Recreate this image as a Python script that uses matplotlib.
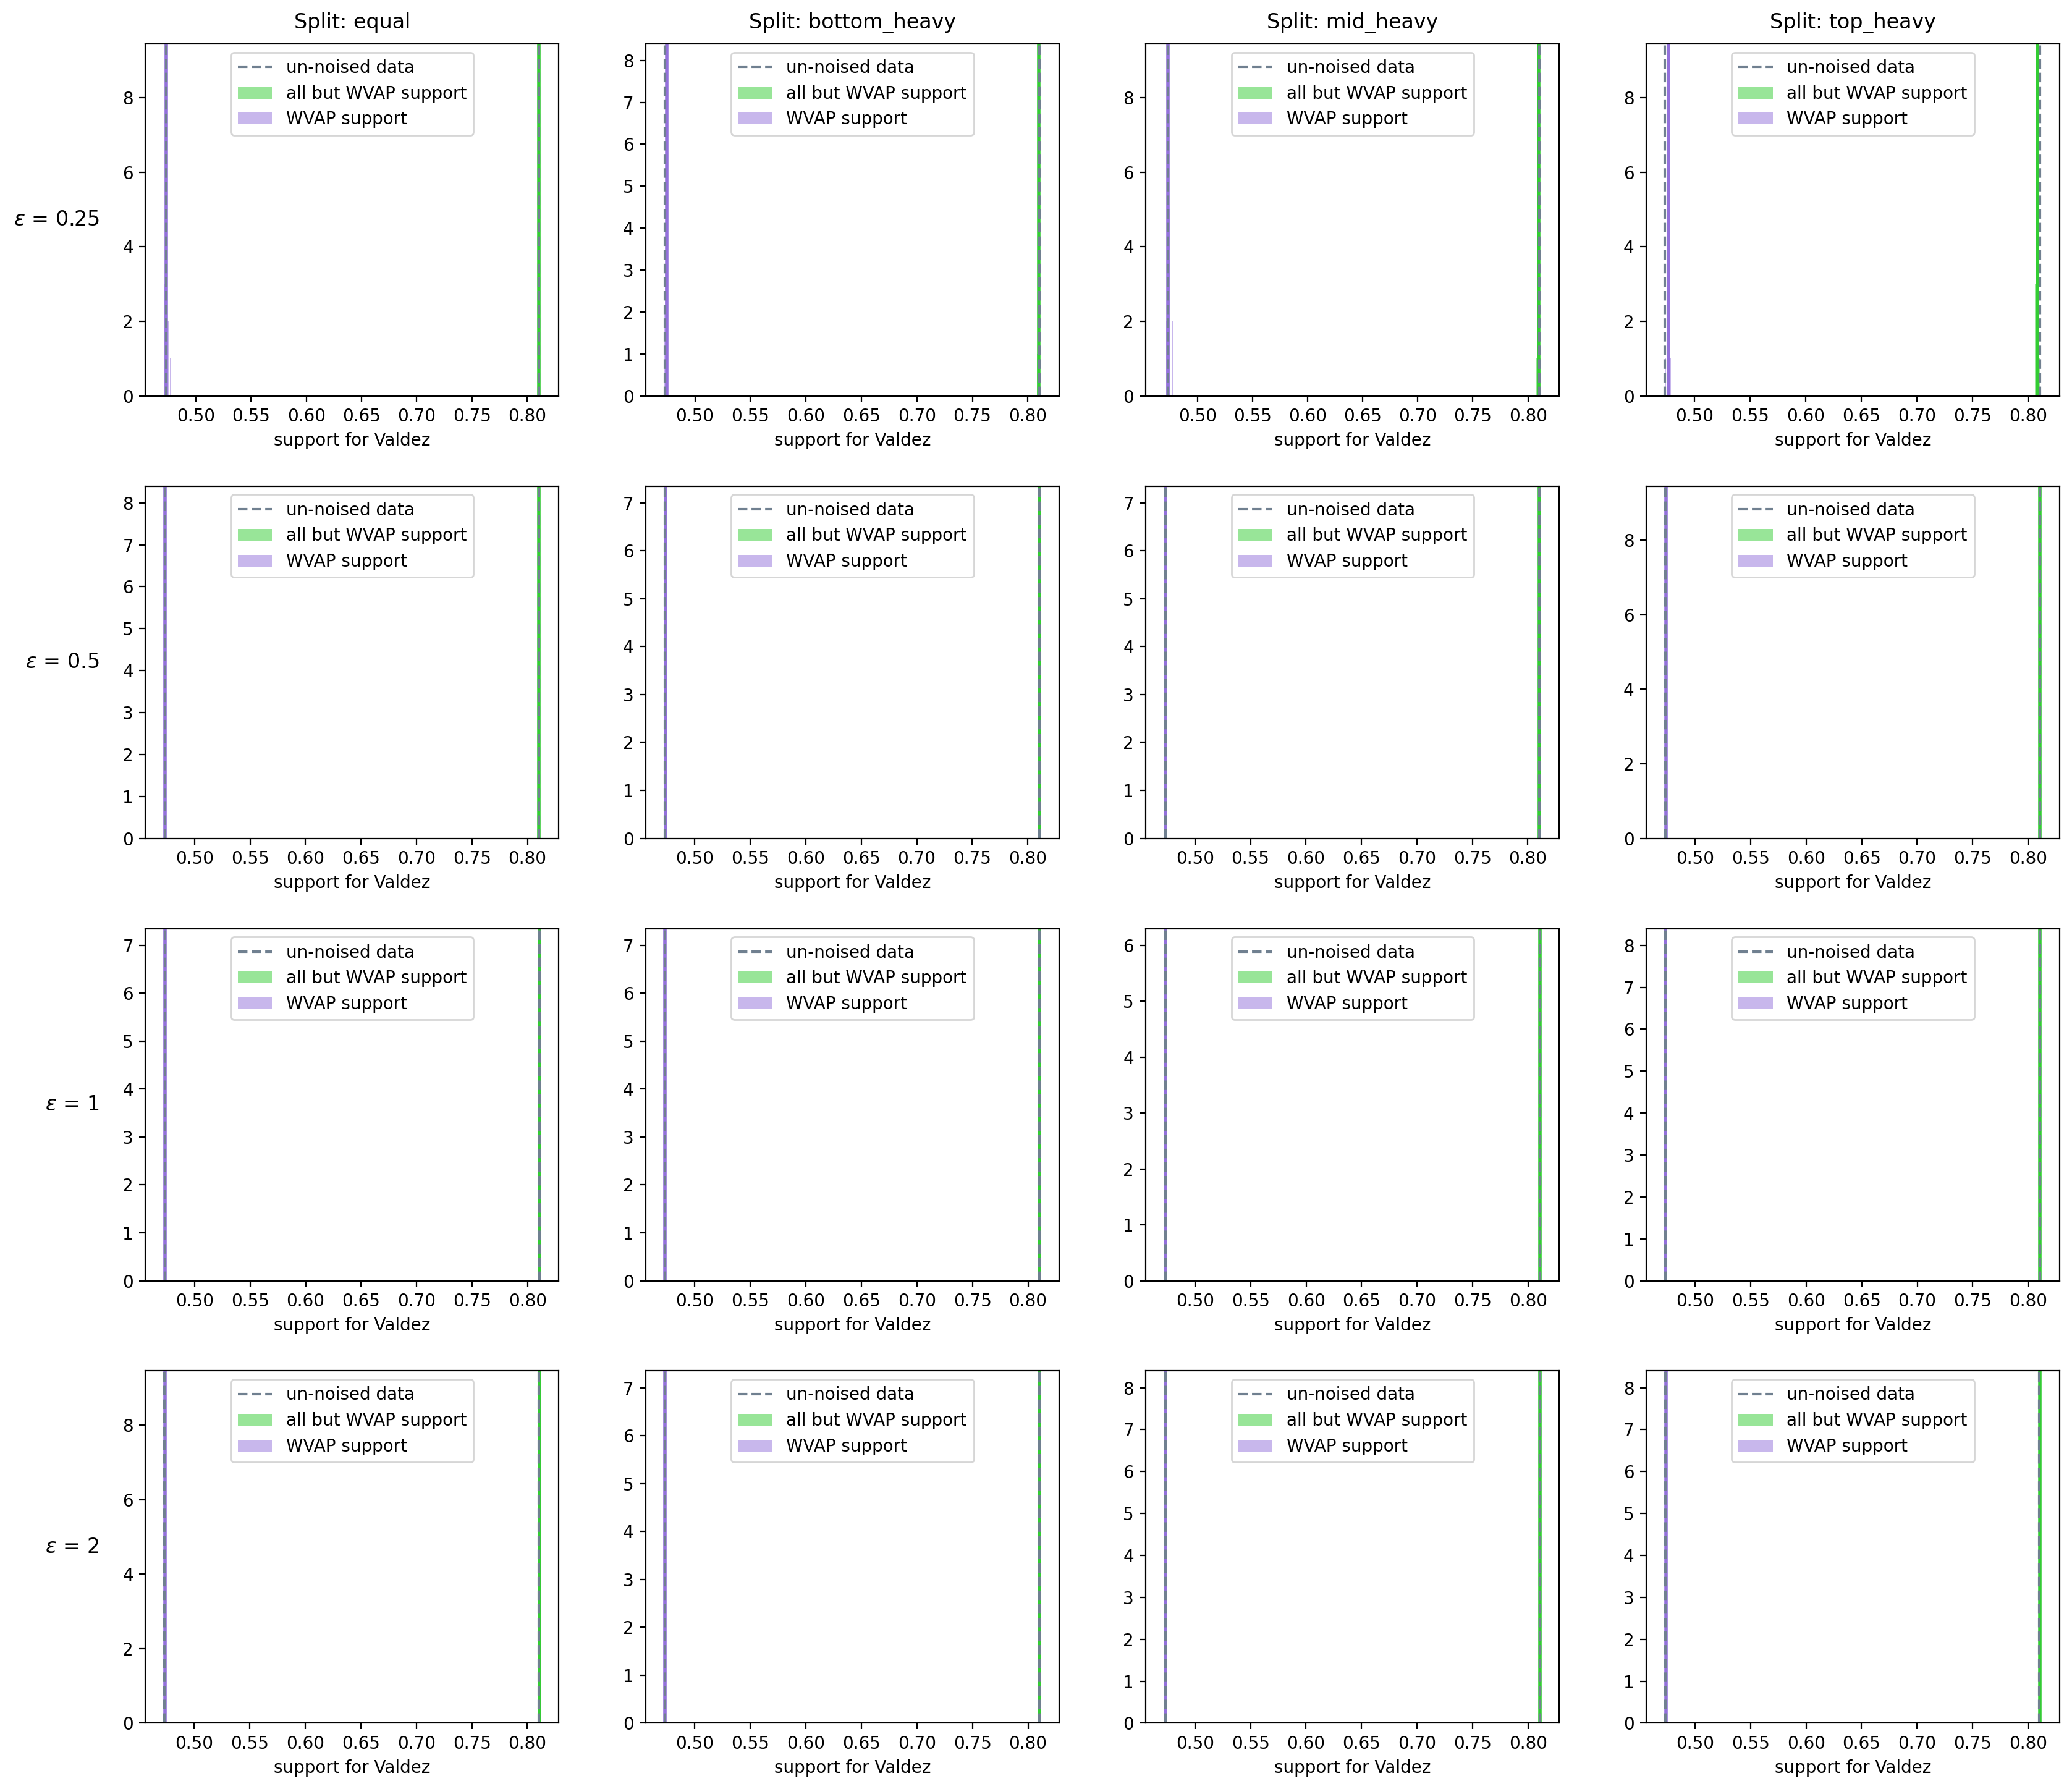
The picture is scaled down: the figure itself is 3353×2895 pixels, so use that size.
import numpy as np
import matplotlib
matplotlib.use('Agg')
import matplotlib.pyplot as plt
from matplotlib.lines import Line2D
from matplotlib.patches import Patch

splits = ['equal', 'bottom_heavy', 'mid_heavy', 'top_heavy']
epsilons = ['0.25', '0.5', '1', '2']

# un-noised support values
true_wvap = 0.4732
true_rest = 0.8105

# mean of noised runs, rows = epsilon, cols = split
wvap_mean = [[0.4731, 0.4749, 0.4731, 0.4762],
             [0.4733, 0.4733, 0.4734, 0.4735],
             [0.4732, 0.4733, 0.4730, 0.4733],
             [0.4733, 0.4732, 0.4731, 0.4734]]
rest_mean = [[0.8105, 0.8096, 0.8100, 0.8084],
             [0.8105, 0.8104, 0.8106, 0.8105],
             [0.8105, 0.8104, 0.8106, 0.8105],
             [0.8106, 0.8105, 0.8106, 0.8109]]

# histogram bin ranges (lo, hi) and counts of noised runs, 10 bins each
wvap_range = [[(0.4713, 0.4768), (0.4726, 0.4771), (0.4703, 0.4778), (0.4733, 0.4788)],
              [(0.4726, 0.4740), (0.4726, 0.4740), (0.4727, 0.4741), (0.4728, 0.4742)],
              [(0.4727, 0.4737), (0.4727, 0.4739), (0.4725, 0.4735), (0.4728, 0.4738)],
              [(0.4729, 0.4737), (0.4727, 0.4737), (0.4727, 0.4735), (0.4727, 0.4741)]]
wvap_counts = [[[3, 1, 5, 9, 4, 2, 2, 0, 0, 1], [2, 3, 4, 8, 6, 3, 1, 0, 1, 1],
                [7, 0, 2, 9, 4, 5, 1, 0, 0, 2], [3, 1, 0, 2, 6, 9, 5, 4, 0, 1]],
               [[1, 2, 4, 6, 8, 5, 2, 1, 0, 1], [1, 1, 3, 5, 7, 6, 3, 2, 1, 1],
                [1, 2, 3, 7, 6, 4, 3, 2, 1, 1], [1, 1, 3, 5, 9, 6, 2, 2, 0, 1]],
               [[1, 2, 3, 5, 7, 6, 3, 2, 1, 0], [0, 2, 3, 6, 7, 5, 3, 2, 1, 1],
                [1, 2, 3, 5, 6, 6, 4, 2, 1, 0], [1, 1, 3, 6, 8, 5, 3, 2, 1, 0]],
               [[1, 1, 3, 6, 9, 5, 3, 1, 1, 0], [1, 2, 3, 5, 7, 6, 3, 2, 1, 0],
                [1, 2, 3, 6, 8, 5, 2, 2, 1, 0], [0, 2, 3, 6, 8, 5, 3, 2, 1, 0]]]
rest_range = [[(0.8083, 0.8118), (0.8082, 0.8112), (0.8074, 0.8114), (0.8062, 0.8112)],
              [(0.8096, 0.8114), (0.8095, 0.8113), (0.8097, 0.8115), (0.8096, 0.8114)],
              [(0.8098, 0.8112), (0.8097, 0.8111), (0.8099, 0.8113), (0.8098, 0.8112)],
              [(0.8100, 0.8114), (0.8099, 0.8111), (0.8099, 0.8113), (0.8102, 0.8116)]]
rest_counts = [[[1, 0, 0, 2, 4, 6, 3, 2, 1, 1], [1, 2, 3, 5, 4, 3, 2, 0, 0, 1],
                [1, 0, 0, 3, 0, 2, 6, 5, 2, 1], [3, 0, 2, 5, 7, 4, 2, 1, 1, 1]],
               [[1, 1, 2, 4, 6, 5, 3, 2, 1, 0], [0, 1, 3, 5, 6, 4, 3, 2, 1, 0],
                [1, 1, 3, 4, 6, 5, 3, 1, 1, 0], [1, 2, 3, 5, 7, 5, 2, 1, 0, 1]],
               [[1, 2, 3, 5, 6, 5, 2, 1, 0, 0], [1, 1, 2, 4, 6, 5, 3, 2, 1, 0],
                [1, 2, 3, 4, 5, 5, 3, 2, 1, 0], [0, 1, 3, 5, 7, 5, 3, 2, 1, 0]],
               [[1, 2, 3, 5, 7, 5, 3, 1, 0, 0], [0, 2, 3, 5, 6, 5, 3, 2, 1, 0],
                [1, 1, 3, 5, 7, 6, 2, 1, 1, 0], [1, 2, 3, 5, 6, 5, 3, 2, 0, 1]]]


def plot_hist(ax, lo_hi, counts, color, label):
    edges = np.linspace(lo_hi[0], lo_hi[1], len(counts) + 1)
    centers = (edges[:-1] + edges[1:]) / 2
    ax.hist(centers, bins=edges, weights=counts, color=color, alpha=0.5, label=label)


fig, axes = plt.subplots(4, 4, figsize=(16.765, 14.475), dpi=200)
fig.subplots_adjust(left=0.0702, right=0.994, top=0.9756, bottom=0.0368,
                    wspace=0.21, hspace=0.256)

for i in range(len(epsilons)):
    for j in range(len(splits)):
        ax = axes[i, j]
        plot_hist(ax, rest_range[i][j], rest_counts[i][j], 'limegreen', 'all but WVAP support')
        plot_hist(ax, wvap_range[i][j], wvap_counts[i][j], 'mediumpurple', 'WVAP support')
        ax.axvline(wvap_mean[i][j], color='mediumpurple', lw=2)
        ax.axvline(rest_mean[i][j], color='limegreen', lw=2)
        ax.axvline(true_wvap, color='slategray', ls='--', lw=1.5)
        ax.axvline(true_rest, color='slategray', ls='--', lw=1.5)
        ax.set_xlabel('support for Valdez')

        handles = [Line2D([], [], color='slategray', ls='--', lw=1.5),
                   Patch(facecolor='limegreen', edgecolor='none', alpha=0.5),
                   Patch(facecolor='mediumpurple', edgecolor='none', alpha=0.5)]
        ax.legend(handles, ['un-noised data', 'all but WVAP support', 'WVAP support'],
                  loc='upper center')

        if i == 0:
            ax.set_title('Split: ' + splits[j], fontsize=12, pad=9)
        if j == 0:
            ax.annotate(r'$\epsilon$ = ' + epsilons[i], xy=(0, 0.5), xytext=(-27, 0),
                        xycoords='axes fraction', textcoords='offset points',
                        fontsize=12, ha='right', va='center')

plt.savefig('out.png', dpi=200)
